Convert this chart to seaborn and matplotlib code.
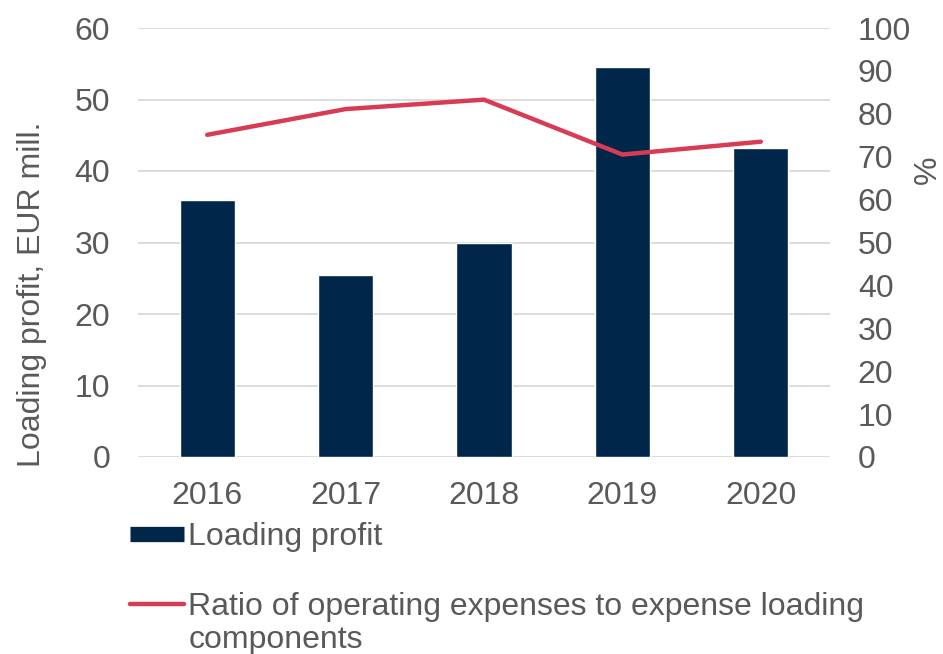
import numpy as np
import pandas as pd
import matplotlib
matplotlib.use("Agg")
import matplotlib.pyplot as plt
import seaborn as sns
from matplotlib.lines import Line2D

years = ["2016", "2017", "2018", "2019", "2020"]
loading_profit = [35.9, 25.4, 29.9, 54.5, 43.2]
expense_ratio = [75.1, 81.1, 83.3, 70.5, 73.5]
left_ticks = [0, 10, 20, 30, 40, 50, 60]
right_ticks = [0, 10, 20, 30, 40, 50, 60, 70, 80, 90, 100]

sns.set_theme(style="white")
plt.rcParams["font.family"] = ["Liberation Sans", "DejaVu Sans"]

BAR_COLOR = "#00264A"
LINE_COLOR = "#D83C55"
TEXT_COLOR = "#595959"
GRID_COLOR = "#D9D9D9"
FS = 23

df = pd.DataFrame({"year": years, "profit": loading_profit, "ratio": expense_ratio})

fig = plt.figure(figsize=(9.43, 6.54), dpi=100)
ax = fig.add_axes([138 / 943, 1 - 457 / 654, 692 / 943, 429 / 654])

sns.barplot(data=df, x="year", y="profit", color=BAR_COLOR, width=0.4,
            saturation=1, ax=ax, zorder=2)
ax.set_xlim(-0.5, 4.5)
ax.set_ylim(0, 60)
ax.set_yticks(left_ticks)
ax.yaxis.grid(True, color=GRID_COLOR, linewidth=1.3, zorder=0)
ax.set_axisbelow(True)
for s in ax.spines.values():
    s.set_visible(False)
ax.tick_params(axis="both", length=0, labelsize=FS, colors=TEXT_COLOR)
ax.tick_params(axis="y", pad=20)
ax.tick_params(axis="x", pad=17)
ax.set_xlabel("")
ax.set_ylabel("Loading profit, EUR mill.", fontsize=FS, color=TEXT_COLOR)
ax.yaxis.set_label_coords(-0.132, 0.38)

ax2 = ax.twinx()
sns.lineplot(x=np.arange(len(years)), y=expense_ratio, color=LINE_COLOR,
             linewidth=3.2, ax=ax2, solid_capstyle="round", zorder=3)
ax2.set_ylim(0, 100)
ax2.set_yticks(right_ticks)
for s in ax2.spines.values():
    s.set_visible(False)
ax2.tick_params(axis="y", length=0, labelsize=FS, colors=TEXT_COLOR, pad=20)
ax2.set_ylabel("")
ax2.grid(False)
ax.set_xlim(-0.5, 4.5)
fig.text(928 / 943, 1 - 170 / 654, "%", fontsize=FS, color=TEXT_COLOR,
         rotation=90, ha="center", va="center")

handles = [
    Line2D([0], [0], color=BAR_COLOR, linewidth=11, solid_capstyle="butt"),
    Line2D([0], [0], color=LINE_COLOR, linewidth=3.2, solid_capstyle="round"),
]
labels = ["Loading profit", "Ratio of operating expenses to expense loading"]
leg = fig.legend(handles, labels, loc="upper left", bbox_to_anchor=(130 / 943, 1 - 522 / 654),
                 frameon=False, fontsize=FS, handlelength=1.7, handletextpad=0.12,
                 labelspacing=1.25, borderpad=0, borderaxespad=0, labelcolor=TEXT_COLOR)

fig.canvas.draw()
renderer = fig.canvas.get_renderer()
bb = leg.get_texts()[1].get_window_extent(renderer)
x0 = bb.x0 / fig.bbox.width
y_line = bb.y0 / fig.bbox.height
fig.text(x0, y_line - 0.004, "components", fontsize=FS, color=TEXT_COLOR,
         ha="left", va="top")

fig.savefig("out.png", dpi=100)
